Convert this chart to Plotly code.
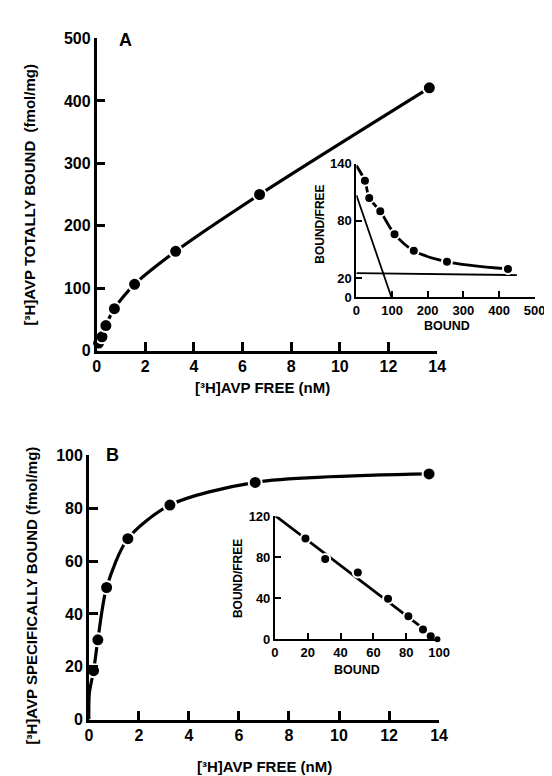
import plotly.graph_objects as go

W, H = 552, 776

# ---------------- DATA ----------------
# Panel A: total binding
a_free = [0.08, 0.22, 0.38, 0.73, 1.56, 3.25, 6.7, 13.68]
a_bound = [12, 22, 40, 67, 106, 159, 250, 421]
a_curve_x = [0, 0.08, 0.22, 0.38, 0.73, 1.56, 3.25, 6.7, 13.68]
a_curve_y = [0, 12, 22, 40, 67, 106, 159, 250, 421]

# Inset A: Scatchard of total binding
ia_bound = [24, 36, 67, 107, 161, 254, 425]
ia_ratio = [122, 104, 90, 66, 48.5, 37, 29.5]
ia_curve_x = [0, 24, 36, 67, 107, 161, 254, 425]
ia_curve_y = [138, 122, 104, 90, 66, 48.5, 37, 29.5]
ia_high_x = [0, 98]
ia_high_y = [107, 0]
ia_low_x = [0, 450]
ia_low_y = [25, 23]

# Panel B: specific binding
b_free = [0.19, 0.36, 0.71, 1.56, 3.24, 6.65, 13.6]
b_bound = [18.5, 30.2, 50, 68.5, 81.2, 89.8, 93]
b_curve_x = [0, 0.02, 0.19, 0.36, 0.71, 1.56, 3.24, 6.65, 13.6]
b_curve_y = [0, 10, 18.5, 30.2, 50, 68.5, 81.2, 89.8, 93]

# Inset B: Scatchard of specific binding
ib_bound = [18.6, 30.6, 50.5, 68.9, 81.3, 90.2, 94.9, 99]
ib_ratio = [98.4, 78.4, 65.3, 39.6, 22.5, 9.5, 3.1, 0]
ib_line_x = [0, 99]
ib_line_y = [121, 0]

main_xticks = [0, 2, 4, 6, 8, 10, 12, 14]
a_yticks = [0, 100, 200, 300, 400, 500]
b_yticks = [0, 20, 40, 60, 80, 100]
ia_xticks = [0, 100, 200, 300, 400, 500]
ia_yticks = [0, 20, 80, 140]
ib_xticks = [0, 20, 40, 60, 80, 100]
ib_yticks = [0, 40, 80, 120]

# ---------------- helpers ----------------
def px(x):
    return x / W

def py(y):
    return 1 - y / H

FONT = "Liberation Sans"
BLACK = "#000000"

fig = go.Figure()

def line(x, y, xa, ya, w, spline=False):
    fig.add_trace(go.Scatter(x=x, y=y, xaxis=xa, yaxis=ya, mode="lines",
                             line=dict(color=BLACK, width=w,
                                       shape="spline" if spline else "linear",
                                       smoothing=0.8),
                             hoverinfo="skip", showlegend=False, cliponaxis=False))

def dots(x, y, xa, ya, size, edge=2):
    fig.add_trace(go.Scatter(x=x, y=y, xaxis=xa, yaxis=ya, mode="markers",
                             marker=dict(color=BLACK, size=size,
                                         line=dict(color="white", width=edge)),
                             showlegend=False, cliponaxis=False))

# Panel A
line(a_curve_x, a_curve_y, "x", "y", 3.2, spline=True)
dots(a_free, a_bound, "x", "y", 13)
# Inset A
line(ia_high_x, ia_high_y, "x2", "y2", 1.8)
line(ia_low_x, ia_low_y, "x2", "y2", 1.8)
line(ia_curve_x, ia_curve_y, "x2", "y2", 2.8, spline=True)
dots(ia_bound, ia_ratio, "x2", "y2", 10)
# Panel B
line(b_curve_x, b_curve_y, "x3", "y3", 3.2, spline=True)
dots(b_free, b_bound, "x3", "y3", 13)
# Inset B
line(ib_line_x, ib_line_y, "x4", "y4", 2.8)
dots(ib_bound[:-1], ib_ratio[:-1], "x4", "y4", 10)
dots(ib_bound[-1:], ib_ratio[-1:], "x4", "y4", 6, edge=0)

def axis(domain, rng, ticks, size, ticklen, lw, anchor):
    return dict(domain=domain, range=rng, tickvals=ticks, ticktext=[str(t) for t in ticks],
                ticks="inside", ticklen=ticklen, tickwidth=lw, tickcolor=BLACK,
                showline=True, linecolor=BLACK, linewidth=lw, showgrid=False,
                zeroline=False, anchor=anchor,
                tickfont=dict(family=FONT, size=size, color=BLACK, weight="bold"))

layout = dict(
    width=W, height=H, margin=dict(l=0, r=0, t=0, b=0),
    paper_bgcolor="white", plot_bgcolor="rgba(0,0,0,0)",
    showlegend=False,
    xaxis=axis([px(87), px(437)], [0, 14], main_xticks, 16, 9, 2.5, "y"),
    yaxis=axis([py(342), py(23)], [0, 500], a_yticks, 16, 9, 2.5, "x"),
    xaxis2=axis([px(354), px(537.3)], [0, 500], ia_xticks, 13, 6, 2, "y2"),
    yaxis2=axis([py(287.3), py(151)], [0, 140], ia_yticks, 13, 6, 2, "x2"),
    xaxis3=axis([px(79), px(439)], [0, 14], main_xticks, 16, 9, 2.5, "y3"),
    yaxis3=axis([py(719.3), py(449.3)], [0, 100], b_yticks, 16, 9, 2.5, "x3"),
    xaxis4=axis([px(270.3), px(439)], [0, 100], ib_xticks, 13, 6, 2, "y4"),
    yaxis4=axis([py(637.3), py(511.7)], [0, 120], ib_yticks, 13, 6, 2, "x4"),
)
fig.update_layout(**layout)

def note(text, x, y, size, angle=0):
    fig.add_annotation(text=text, x=px(x), y=py(y), xref="paper", yref="paper",
                       showarrow=False, textangle=angle, xanchor="center", yanchor="middle",
                       font=dict(family=FONT, size=size, color=BLACK, weight="bold"))

note("[³H]AVP TOTALLY BOUND  (fmol/mg)", 19, 183, 15, -90)
note("[³H]AVP FREE (nM)", 258, 380, 15)
note("A", 117, 25, 18)
note("BOUND/FREE", 317, 213, 12, -90)
note("BOUND", 447, 317, 12.5)

note("[³H]AVP SPECIFICALLY BOUND (fmol/mg)", 20, 592, 15, -90)
note("[³H]AVP FREE (nM)", 260, 767, 15)
note("B", 103, 449, 18)
note("BOUND/FREE", 233, 575, 12, -90)
note("BOUND", 355, 669, 12.5)

fig.write_html("out.html")
